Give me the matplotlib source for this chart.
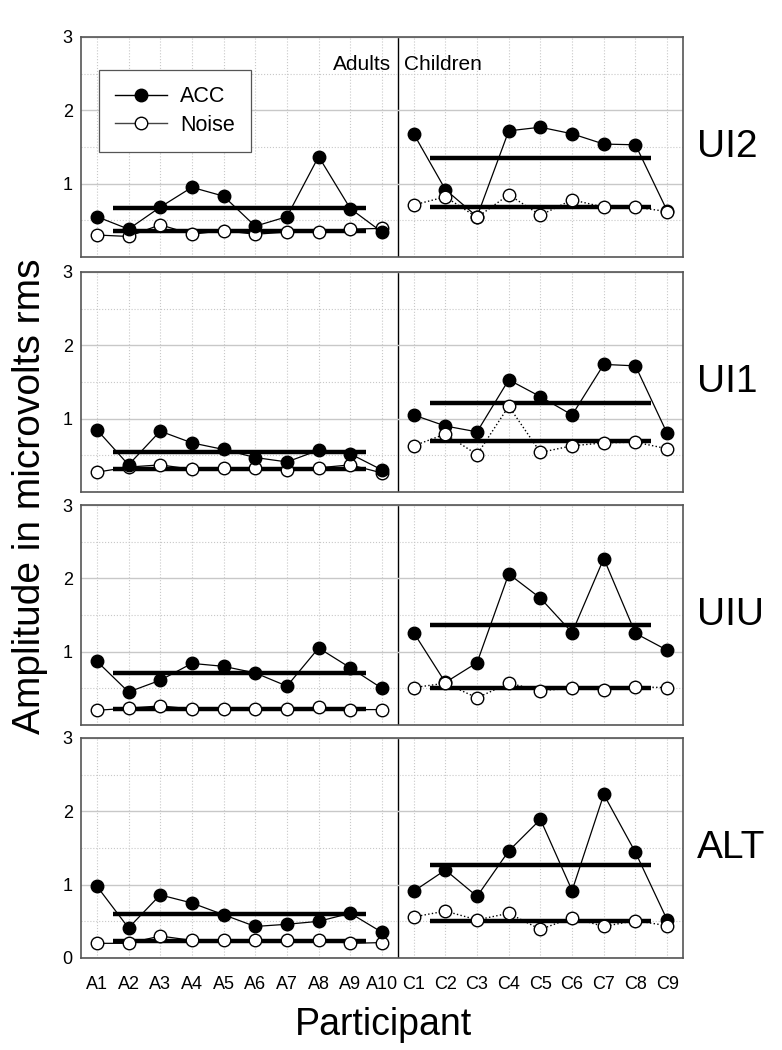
import matplotlib
matplotlib.use("Agg")
import matplotlib.pyplot as plt
from matplotlib.lines import Line2D
import numpy as np

plt.rcParams['font.family'] = ['Liberation Sans', 'DejaVu Sans']

participants = ["A1", "A2", "A3", "A4", "A5", "A6", "A7", "A8", "A9", "A10",
                "C1", "C2", "C3", "C4", "C5", "C6", "C7", "C8", "C9"]
conditions = ["UI2", "UI1", "UIU", "ALT"]

# ACC amplitude per participant (adults A1-A10, then children C1-C9)
acc_ui2 = [0.55, 0.38, 0.68, 0.95, 0.83, 0.42, 0.55, 1.37, 0.66, 0.34,
           1.68, 0.92, 0.55, 1.72, 1.77, 1.68, 1.54, 1.53, 0.63]
acc_ui1 = [0.85, 0.37, 0.83, 0.67, 0.58, 0.47, 0.41, 0.57, 0.52, 0.30,
           1.05, 0.90, 0.82, 1.53, 1.30, 1.05, 1.74, 1.72, 0.80]
acc_uiu = [0.87, 0.45, 0.61, 0.84, 0.80, 0.71, 0.53, 1.05, 0.78, 0.50,
           1.26, 0.58, 0.85, 2.06, 1.73, 1.26, 2.27, 1.25, 1.02]
acc_alt = [0.98, 0.41, 0.86, 0.75, 0.59, 0.43, 0.46, 0.50, 0.61, 0.35,
           0.91, 1.20, 0.84, 1.46, 1.89, 0.92, 2.23, 1.44, 0.52]

# noise amplitude per participant
noise_ui2 = [0.30, 0.28, 0.44, 0.31, 0.36, 0.31, 0.34, 0.34, 0.38, 0.39,
             0.71, 0.82, 0.54, 0.85, 0.57, 0.78, 0.68, 0.68, 0.62]
noise_ui1 = [0.27, 0.34, 0.37, 0.31, 0.33, 0.33, 0.30, 0.33, 0.37, 0.26,
             0.63, 0.79, 0.51, 1.17, 0.54, 0.63, 0.67, 0.68, 0.59]
noise_uiu = [0.20, 0.23, 0.26, 0.22, 0.22, 0.22, 0.22, 0.24, 0.21, 0.21,
             0.51, 0.57, 0.37, 0.57, 0.47, 0.50, 0.48, 0.52, 0.51]
noise_alt = [0.20, 0.20, 0.30, 0.24, 0.25, 0.25, 0.24, 0.25, 0.20, 0.21,
             0.56, 0.64, 0.52, 0.61, 0.39, 0.55, 0.43, 0.51, 0.44]

# group means [adults, children]
mean_acc = {"UI2": [0.67, 1.35], "UI1": [0.55, 1.21], "UIU": [0.71, 1.36], "ALT": [0.60, 1.27]}
mean_noise = {"UI2": [0.35, 0.68], "UI1": [0.32, 0.69], "UIU": [0.22, 0.50], "ALT": [0.23, 0.51]}

acc = {"UI2": acc_ui2, "UI1": acc_ui1, "UIU": acc_uiu, "ALT": acc_alt}
noise = {"UI2": noise_ui2, "UI1": noise_ui1, "UIU": noise_uiu, "ALT": noise_alt}

n_adults = 10
x = np.arange(1, len(participants) + 1)
xa, xc = x[:n_adults], x[n_adults:]

fig = plt.figure(figsize=(7.82, 10.5), dpi=100)
W, H = 782, 1050
tops = [37, 272, 505, 738]
ph = 220
left, right = 81, 683

for i, cond in enumerate(conditions):
    ax = fig.add_axes([left / W, 1 - (tops[i] + ph) / H, (right - left) / W, ph / H])
    a = np.array(acc[cond])
    nz = np.array(noise[cond])

    # grid
    ax.set_xlim(0.5, len(participants) + 0.5)
    ax.set_ylim(0, 3)
    ax.set_xticks(x)
    ax.set_yticks([0, 1, 2, 3])
    ax.set_yticks([0.5, 1.5, 2.5], minor=True)
    ax.grid(True, axis='y', which='major', color='#c8c8c8', lw=1.0, zorder=0)
    ax.grid(True, axis='y', which='minor', color='#c8c8c8', lw=0.8, ls=':', zorder=0)
    ax.grid(True, axis='x', which='major', color='#c8c8c8', lw=0.8, ls=':', zorder=0)
    ax.axvline(n_adults + 0.5, color='black', lw=1.0, zorder=1)

    # group means
    ax.plot([1.5, 9.5], [mean_acc[cond][0]] * 2, color='black', lw=3.2, solid_capstyle='butt', zorder=2)
    ax.plot([11.5, 18.5], [mean_acc[cond][1]] * 2, color='black', lw=3.2, solid_capstyle='butt', zorder=2)
    ax.plot([1.5, 9.5], [mean_noise[cond][0]] * 2, color='black', lw=3.2, solid_capstyle='butt', zorder=2)
    ax.plot([11.5, 18.5], [mean_noise[cond][1]] * 2, color='black', lw=3.2, solid_capstyle='butt', zorder=2)

    # noise
    ax.plot(xa, nz[:n_adults], color='black', lw=0.9, marker='o', ms=9,
            mfc='white', mec='black', mew=1.0, zorder=3)
    ax.plot(xc, nz[n_adults:], color='black', lw=1.0, ls=':', zorder=3)
    ax.plot(xc, nz[n_adults:], ls='none', marker='o', ms=9,
            mfc='white', mec='black', mew=1.0, zorder=4)
    # ACC
    ax.plot(xa, a[:n_adults], color='black', lw=0.9, marker='o', ms=9,
            mfc='black', mec='black', zorder=3)
    ax.plot(xc, a[n_adults:], color='black', lw=0.9, marker='o', ms=9,
            mfc='black', mec='black', zorder=3)

    for s in ax.spines.values():
        s.set_color('#555555')
        s.set_linewidth(1.2)
    ax.tick_params(which='both', length=0, labelsize=13, pad=6)
    ax.tick_params(axis='x', pad=13)
    if i < 3:
        ax.set_yticks([1, 2, 3])
        ax.set_xticklabels([])
    else:
        ax.set_xticklabels(participants, fontsize=13)

    ax.text(1.023, 0.5, cond, transform=ax.transAxes, fontsize=28, ha='left', va='center')

    if i == 0:
        ax.text(10.3, 2.62, "Adults", fontsize=15, ha='right', va='center')
        ax.text(10.7, 2.62, "Children", fontsize=15, ha='left', va='center')
        handles = [
            Line2D([], [], color='black', lw=1.0, marker='o', ms=9, mfc='black', mec='black'),
            Line2D([], [], color='#444444', lw=1.0, marker='o', ms=9, mfc='white', mec='black'),
        ]
        leg = ax.legend(handles, ["ACC", "Noise"], loc='upper left',
                        bbox_to_anchor=(0.030, 0.85), fontsize=15.5, frameon=True,
                        fancybox=False, edgecolor='#555555', framealpha=1,
                        labelspacing=0.35, borderpad=0.75, handlelength=2.4,
                        handletextpad=0.6, borderaxespad=0)
        leg.get_frame().set_linewidth(0.9)

fig.text(0.038, 0.527, "Amplitude in microvolts rms", rotation=90, fontsize=28,
         ha='center', va='center')
fig.text(0.49, 0.024, "Participant", fontsize=27, ha='center', va='center')

fig.savefig("out.png", dpi=100)
